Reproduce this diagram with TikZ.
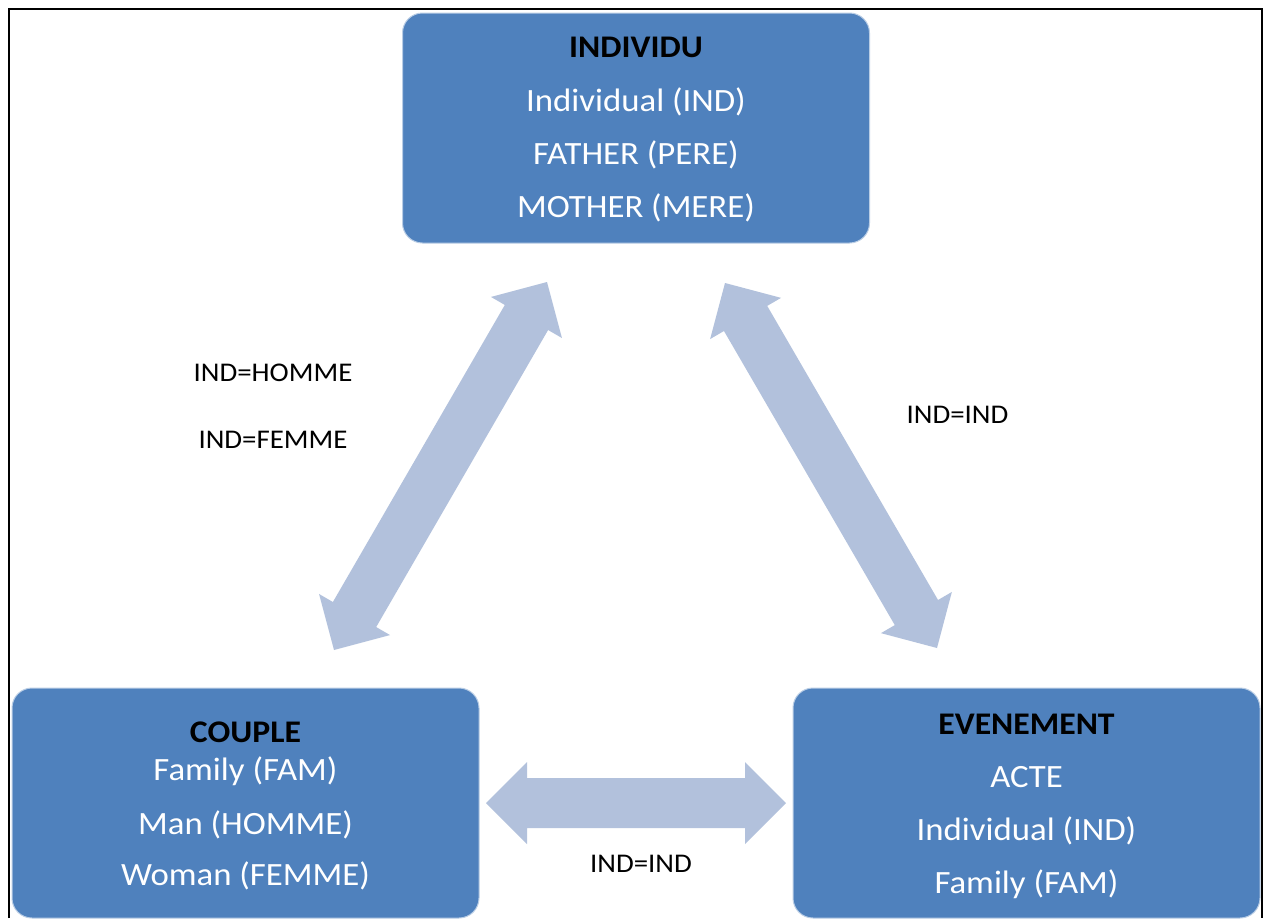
\documentclass[tikz,border=0pt]{standalone}
\usepackage{fontspec}
\setmainfont{Carlito}[FakeStretch=1.07]
\usetikzlibrary{calc}
\definecolor{boxblue}{RGB}{79,129,189}
\definecolor{boxedge}{RGB}{185,205,229}
\definecolor{arrowblue}{RGB}{178,193,220}
\tikzset{
  box/.style={draw=boxedge, line width=1pt, fill=boxblue, rounded corners=20pt,
    minimum width=467pt, minimum height=230pt, inner sep=0pt},
  ttl/.style={anchor=base, font=\fontsize{31.5}{36}\selectfont\bfseries, text=black, inner sep=0pt},
  itm/.style={anchor=base, font=\fontsize{32.5}{38}\selectfont, text=white, inner sep=0pt},
  lbl/.style={anchor=base, font=\fontsize{27}{32}\selectfont, text=black, inner sep=0pt},
  bigarrow/.style={fill=arrowblue},
  frameline/.style={draw=black, line width=1.6pt},
}
\newcommand\dblarrow[3]{%
  \coordinate (#1h1) at ($(#2)!41pt!(#3)$);
  \coordinate (#1h2) at ($(#3)!41pt!(#2)$);
  \fill[bigarrow] (#2) -- ($(#1h1)!41pt!90:(#3)$) -- ($(#1h1)!25pt!90:(#3)$)
    -- ($(#1h2)!25pt!-90:(#2)$) -- ($(#1h2)!41pt!-90:(#2)$) -- (#3)
    -- ($(#1h2)!41pt!90:(#2)$) -- ($(#1h2)!25pt!90:(#2)$)
    -- ($(#1h1)!25pt!-90:(#3)$) -- ($(#1h1)!41pt!-90:(#3)$) -- cycle;}
\begin{document}
\begin{tikzpicture}[x=1pt, y=-1pt]
\useasboundingbox (0,0) rectangle (1263,918);
\fill[white] (0,0) rectangle (1263,918);
% frame
\coordinate (fbl) at (9,918);
\coordinate (ftl) at (9,9);
\coordinate (ftr) at (1262,9);
\coordinate (fbr) at (1262,918);
\draw[frameline] (fbl) -- (ftl) -- (ftr) -- (fbr);
% boxes
\node[box] (ind) at (636,128) {};
\node[box] (cou) at (245.5,803) {};
\node[box] (eve) at (1026.5,803) {};
% INDIVIDU text
\node[ttl] (indt) at (636,57) {INDIVIDU};
\node[itm] (ind1) at (636,111) {Individual (IND)};
\node[itm] (ind2) at (636,164) {FATHER (PERE)};
\node[itm] (ind3) at (636,217) {MOTHER (MERE)};
% COUPLE text
\node[ttl] (cout) at (245.5,742) {COUPLE};
\node[itm] (cou1) at (245.5,780) {Family (FAM)};
\node[itm] (cou2) at (245.5,834) {Man (HOMME)};
\node[itm] (cou3) at (245.5,885) {Woman (FEMME)};
% EVENEMENT text
\node[ttl] (evet) at (1026.5,734) {EVENEMENT};
\node[itm] (eve1) at (1026.5,787) {ACTE};
\node[itm] (eve2) at (1026.5,840) {Individual (IND)};
\node[itm] (eve3) at (1026.5,893) {Family (FAM)};
% arrows
\coordinate (la) at (334,650);
\coordinate (lb) at (547,282);
\coordinate (ra) at (725,283);
\coordinate (rb) at (937,648);
\coordinate (ha) at (486,803);
\coordinate (hb) at (786,803);
\dblarrow{L}{la}{lb}
\dblarrow{R}{ra}{rb}
\dblarrow{H}{ha}{hb}
% labels
\node[lbl] (l1) at (273,381) {IND=HOMME};
\node[lbl] (l2) at (273,448) {IND=FEMME};
\node[lbl] (l3) at (957.5,423) {IND=IND};
\node[lbl] (l4) at (641,872) {IND=IND};
\end{tikzpicture}
\end{document}
